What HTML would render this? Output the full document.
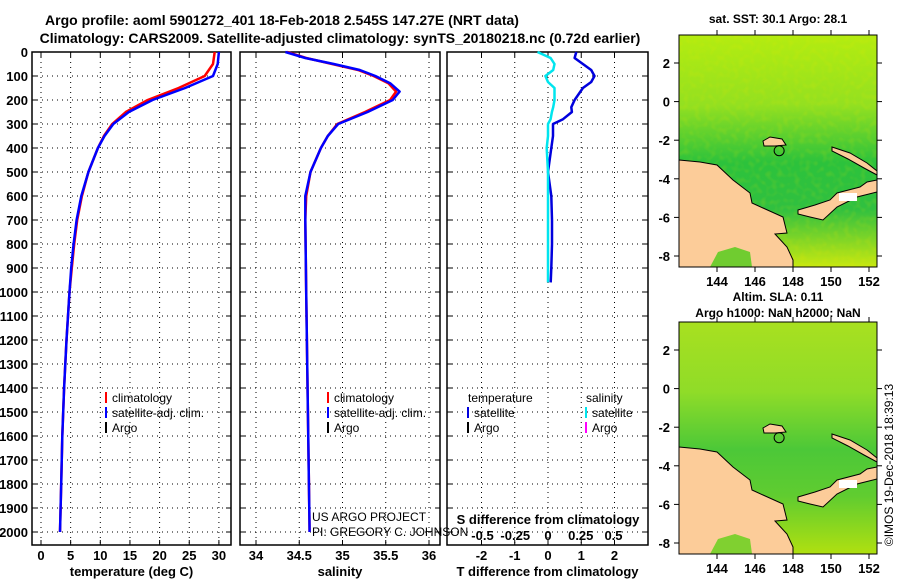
<!DOCTYPE html>
<html><head><meta charset="utf-8"><style>
body{margin:0;background:#fff}
svg{display:block;font-family:"Liberation Sans",sans-serif;font-weight:bold}
</style></head><body>
<svg id="c" width="900" height="580" viewBox="0 0 900 580">
<defs>
<filter id="mott" x="0" y="0" width="1" height="1"><feTurbulence type="fractalNoise" baseFrequency="0.18" numOctaves="1" seed="3" result="n"/><feColorMatrix in="n" type="matrix" values="0 0 0 0 0.9  0 0 0 0 0.8  0 0 0 0 0  0 0 0 1.2 -0.55"/></filter>
</defs>
<g font-size="14" text-anchor="middle">
<text x="282" y="25">Argo profile: aoml 5901272_401 18-Feb-2018 2.545S 147.27E (NRT data)</text>
<text x="340" y="43">Climatology: CARS2009. Satellite-adjusted climatology: synTS_20180218.nc (0.72d earlier)</text>
</g>
<g id="panels"></g>
<g id="maps"></g>
<text transform="translate(893,465) rotate(-90)" font-size="12" font-weight="normal" text-anchor="middle">©IMOS 19-Dec-2018 18:39:13</text>
</svg>
<script>
const NS="http://www.w3.org/2000/svg";
const svg=document.getElementById('c');
function mk(t,a,p){const e=document.createElementNS(NS,t);for(const k in a)e.setAttribute(k,a[k]);(p||svg).appendChild(e);return e;}
// ---- data ----
const depthTicks=[0,100,200,300,400,500,600,700,800,900,1000,1100,1200,1300,1400,1500,1600,1700,1800,1900,2000];
const tempTicks=[0,5,10,15,20,25,30];
const salTicks=[34,34.5,35,35.5,36];
const tdiffTicks=[-2,-1,0,1,2];
const sdiffTicks=["-0.5","-0.25","0","0.25","0.5"];
const tDepth=[0,50,100,150,200,250,300,350,400,500,600,700,800,900,1000,1200,1400,1600,1800,2000];
const tClim=[29.3,29.0,27.6,23.2,18.0,14.3,12.0,10.6,9.6,8.0,6.9,6.1,5.6,5.2,4.8,4.3,3.9,3.6,3.4,3.2];
const tSat=[30.0,29.8,29.0,24.3,18.8,14.8,12.2,10.7,9.6,8.0,6.8,6.0,5.5,5.1,4.8,4.3,3.9,3.6,3.4,3.2];
const sDepth=[0,25,50,75,100,130,165,200,250,300,350,400,500,600,700,1000,1500,2000];
const sClim=[34.36,34.58,34.88,35.18,35.36,35.53,35.62,35.55,35.26,34.94,34.83,34.75,34.63,34.58,34.57,34.58,34.60,34.62];
const sSat=[34.34,34.57,34.90,35.20,35.38,35.55,35.66,35.58,35.29,34.95,34.83,34.75,34.63,34.57,34.57,34.58,34.60,34.62];
const dDepth=[0,25,50,75,100,125,150,200,230,250,280,300,350,400,500,600,700,800,900,960];
const tDiff=[0.85,0.8,1.05,1.3,1.4,1.3,1.05,0.8,0.7,0.72,0.45,0.15,0.15,0.1,0,0.1,0.12,0.12,0.1,0.08];
const sDiff=[-0.08,0.02,0.05,0.04,-0.02,0.0,0.05,0.05,0.04,0.03,0.02,0.0,0.0,-0.01,0,0,0,0,0,0];
// ---- axes ----
const Y=d=>52+d*0.24;
const BOT=545;
const P=[
 {x0:32,x1:231,sx:v=>41+v*5.93,ticks:tempTicks,name:'temperature-panel',label:'temperature (deg C)'},
 {x0:240,x1:440,sx:v=>256+(v-34)*86.5,ticks:salTicks,name:'salinity-panel',label:'salinity'},
 {x0:447,x1:648,sx:v=>548+v*33.25,ticks:tdiffTicks,name:'difference-panel',label:'T difference from climatology'}];
const pg=document.getElementById('panels');
P.forEach((p,i)=>{
 const g=mk('g',{},pg);
 
 
 const grid=mk('g',{stroke:'#000','stroke-width':1,'stroke-dasharray':'1,4'},g);
 depthTicks.forEach(d=>{if(d>0)mk('line',{x1:p.x0,x2:p.x1,y1:Y(d),y2:Y(d)},grid);});
 p.ticks.forEach(v=>mk('line',{x1:p.sx(v),x2:p.sx(v),y1:52,y2:BOT},grid));
 const box=mk('rect',{x:p.x0,y:52,width:p.x1-p.x0,height:BOT-52,fill:'none',stroke:'#000','stroke-width':1.5},g);
 
 
 p.ticks.forEach(v=>{
  mk('line',{x1:p.sx(v),x2:p.sx(v),y1:BOT,y2:BOT-5,stroke:'#000'},g);
  mk('line',{x1:p.sx(v),x2:p.sx(v),y1:52,y2:57,stroke:'#000'},g);
  const t=mk('text',{x:p.sx(v),y:560,'font-size':13,'text-anchor':'middle'},g);t.textContent=v;
  
  
 });
 depthTicks.forEach(d=>{mk('line',{x1:p.x0,x2:p.x0+5,y1:Y(d),y2:Y(d),stroke:'#000'},g);mk('line',{x1:p.x1,x2:p.x1-5,y1:Y(d),y2:Y(d),stroke:'#000'},g);});
 const xl=mk('text',{x:(p.x0+p.x1)/2,y:576,'font-size':13,'text-anchor':'middle'},g);xl.textContent=p.label;
 
 
});
const ya=mk('g',{'font-size':13,'text-anchor':'end'},pg);


depthTicks.forEach(d=>{const t=mk('text',{x:28,y:Y(d)+5},ya);t.textContent=d;});
function line(xs,ds,sx,col,name,w){
 const pts=xs.map((v,i)=>sx(v).toFixed(1)+','+Y(ds[i]).toFixed(1)).join(' ');
 const e=mk('polyline',{points:pts,fill:'none',stroke:col,'stroke-width':w||2.5,'stroke-linejoin':'round'},pg);
 
 
}
line(tClim,tDepth,P[0].sx,'#ff0000','temperature-climatology-line');
line(tSat,tDepth,P[0].sx,'#0000ff','temperature-satellite-line');
line(sClim,sDepth,P[1].sx,'#ff0000','salinity-climatology-line');
line(sSat,sDepth,P[1].sx,'#0000ff','salinity-satellite-line');
line(tDiff,dDepth,P[2].sx,'#0000dd','t-difference-line');
line(sDiff,dDepth,v=>548+v*131,'#00e5ee','s-difference-line');
// S diff ticks
const sd=mk('g',{'font-size':13,'text-anchor':'middle'},pg);


let st=mk('text',{x:548,y:524},sd);st.textContent='S difference from climatology';
sdiffTicks.forEach(v=>{const t=mk('text',{x:548+parseFloat(v)*131,y:540},sd);t.textContent=v;});
// legends
function leg(x,y,items,nm){
 const g=mk('g',{'font-size':12,'font-weight':'normal'},pg);
 
 
 items.forEach((it,i)=>{
  if(it[1])mk('line',{x1:x,x2:x,y1:y+i*15-10,y2:y+i*15+1,stroke:it[1],'stroke-width':2},g);
  const t=mk('text',{x:x+(it[1]?6:0),y:y+i*15},g);t.textContent=it[0];
 });
}
leg(106,402,[['climatology','#ff0000'],['satellite-adj. clim.','#0000ff'],['Argo','#000']],'temperature-legend');
leg(328,402,[['climatology','#ff0000'],['satellite-adj. clim.','#0000ff'],['Argo','#000']],'salinity-legend');
leg(468,402,[['temperature',null],['satellite','#0000dd'],['Argo','#000']],'t-diff-legend');
leg(586,402,[['salinity',null],['satellite','#00e5ee'],['Argo','#ff00ff']],'s-diff-legend');
const cr=mk('g',{'font-size':12,'font-weight':'normal'},pg);


let c1=mk('text',{x:312,y:521},cr);c1.textContent='US ARGO PROJECT';
let c2=mk('text',{x:312,y:536},cr);c2.textContent='PI: GREGORY C. JOHNSON';
// ---- maps ----
const mg=document.getElementById('maps');
const lonTicks=[144,146,148,150,152];
const latTicks=[2,0,-2,-4,-6,-8];
function map(top,titles,nm,top2){
 const g=mk('g',{},mg);
 
 
 const lx=v=>717+(v-144)*19, ly=v=>top+28+(2-v)*19.3;
 const id='gr'+top;
 const defs=mk('defs',{},g);
 const lg=mk('linearGradient',{id:id,x1:0,y1:0,x2:0,y2:1},defs);
 mk('stop',{offset:'0',  'stop-color':top2?'#a8e020':'#b4ec10'},lg);
 mk('stop',{offset:'0.3','stop-color':top2?'#90dc28':'#94e020'},lg);
 mk('stop',{offset:'0.55','stop-color':top2?'#4cc838':'#2cc23c'},lg);
 mk('stop',{offset:'0.75','stop-color':top2?'#60cc30':'#30c040'},lg);
 mk('stop',{offset:'1','stop-color':top2?'#b0e010':'#c8e810'},lg);
 mk('rect',{x:679,y:top,width:198,height:232,fill:'url(#'+id+')'},g);
 if(!top2)mk('rect',{x:679,y:top,width:198,height:232,filter:'url(#mott)',opacity:0.35},g);
 const o=top-35;
 const sh=pts=>pts.map(p=>p[0]+','+(p[1]+o)).join(' ');
 const land={fill:'#fccc99',stroke:'#000','stroke-width':1};
 const lp=(pts)=>{const e=mk('polygon',Object.assign({points:sh(pts)},land),g);};
 lp([[679,160],[700,162],[717,165],[733,180],[750,193],[752,203],[763,208],[783,217],[787,233],[775,234],[787,247],[793,260],[793,267],[679,267]]);
 mk('polygon',{points:sh([[710,267],[718,252],[735,247],[750,252],[752,267]]),fill:top2?'#80d030':'#70cc30'},g);
 lp([[798,210],[815,205],[830,200],[837,193],[860,187],[867,182],[877,180],[877,192],[857,197],[837,207],[823,220],[810,217],[798,214]]);
 mk('rect',{x:839,y:193+o,width:18,height:8,fill:'#fff'},g);
 lp([[832,147],[850,153],[867,163],[877,171],[877,175],[864,168],[848,159],[832,151]]);
 lp([[763,141],[770,137],[782,139],[786,145],[775,146],[764,146]]);
 mk('circle',{cx:lx(147.27),cy:ly(-2.545),r:5,fill:'none',stroke:'#000','stroke-width':1},g);
 mk('rect',{x:679,y:top,width:198,height:232,fill:'none',stroke:'#000','stroke-width':1},g);
 lonTicks.forEach(v=>{mk('line',{x1:lx(v),x2:lx(v),y1:top+232,y2:top+237,stroke:'#000'},g);mk('line',{x1:lx(v),x2:lx(v),y1:top,y2:top-5,stroke:'#000'},g);
  const t=mk('text',{x:lx(v),y:top+251,'font-size':13,'text-anchor':'middle'},g);t.textContent=v;});
 latTicks.forEach(v=>{mk('line',{x1:679,x2:674,y1:ly(v),y2:ly(v),stroke:'#000'},g);mk('line',{x1:877,x2:882,y1:ly(v),y2:ly(v),stroke:'#000'},g);
  const t=mk('text',{x:670,y:ly(v)+5,'font-size':13,'text-anchor':'end'},g);t.textContent=v;});
 titles.forEach((s,i)=>{const t=mk('text',{x:778,y:titles.length==1?top-12:top-21+i*16,'font-size':12,'text-anchor':'middle'},g);t.textContent=s;});
}
map(35,['sat. SST: 30.1  Argo: 28.1'],'sst-map',false);
map(322,['Altim. SLA: 0.11','Argo h1000: NaN h2000: NaN'],'sla-map',true);
</script>
</body></html>
